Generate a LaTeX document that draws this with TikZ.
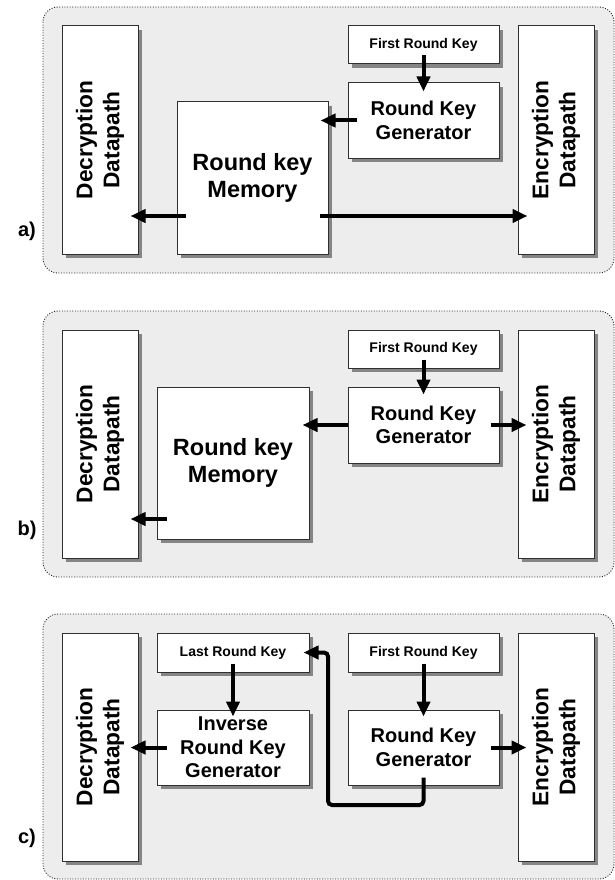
\documentclass[tikz,border=0pt]{standalone}
\usepackage{fontspec}
\setmainfont{Liberation Sans}
\usetikzlibrary{arrows.meta,shadows,calc}
\definecolor{panelfill}{HTML}{EDEDED}
\definecolor{boxline}{HTML}{303030}
\definecolor{shadowgray}{HTML}{858585}
\tikzset{
  panel/.style={draw=black!85, dash pattern=on 1pt off 1.6pt, line width=0.9pt, fill=panelfill, rounded corners=15pt},
  blk/.style={draw=boxline, line width=1pt, fill=white, inner sep=0pt, align=center, font=\bfseries,
    drop shadow={shadow xshift=4pt, shadow yshift=-4pt, fill=shadowgray, opacity=1}},
  dpath/.style={blk, minimum width=76pt, minimum height=228pt},
  dptext/.style={rotate=90, align=center, font=\bfseries\fontsize{22.7}{27}\selectfont, inner sep=0pt},
  keybox/.style={blk, minimum width=151pt, minimum height=38pt, font=\bfseries\fontsize{14}{17}\selectfont},
  genbox/.style={blk, minimum width=151pt, minimum height=75pt, font=\bfseries\fontsize{20}{23.5}\selectfont},
  membox/.style={blk, minimum width=151pt, minimum height=152pt, font=\bfseries\fontsize{23.5}{27}\selectfont},
  arr/.style={line width=4pt, -{Triangle[length=15pt,width=13pt]}},
  tag/.style={font=\bfseries\fontsize{20}{24}\selectfont, inner sep=0pt}
}
\begin{document}
\begin{tikzpicture}[x=1pt,y=-1pt]
\useasboundingbox (0,0) rectangle (615,880);
% panels
\draw[panel] (43,7) rectangle (614,273);
\draw[panel] (43,311) rectangle (614,577);
\draw[panel] (43,614) rectangle (614,879);
\node[tag] (la) at (27,231) {a)};
\node[tag] (lb) at (27,530) {b)};
\node[tag] (lc) at (27,838) {c)};

% ---------- panel a ----------
\node[dpath] (decA) at (100,140) {};
\node[dptext] (decAt) at (decA.center) {Decryption\\Datapath};
\node[dpath] (encA) at (556,140) {};
\node[dptext] (encAt) at (encA.center) {Encryption\\Datapath};
\node[keybox] (frkA) at (423.5,45) {First Round Key};
\node[genbox] (rkgA) at (423.5,120.5) {Round Key\\Generator};
\node[membox] (memA) at (252.5,178) {Round key\\Memory};
\draw[arr, shorten <=-9pt, shorten >=-9pt] (frkA.south) -- (rkgA.north);
\draw[arr, shorten <=-9pt, shorten >=-8pt] (rkgA.west) -- (rkgA.west -| memA.east);
\draw[arr, shorten <=-9pt, shorten >=-8pt] ([yshift=-38pt]memA.west) -- ([yshift=-38pt]memA.west -| decA.east);
\draw[arr, shorten <=-9pt, shorten >=-10pt] ([yshift=-38pt]memA.east) -- ([yshift=-38pt]memA.east -| encA.west);

% ---------- panel b ----------
\node[dpath] (decB) at (100,444) {};
\node[dptext] (decBt) at (decB.center) {Decryption\\Datapath};
\node[dpath] (encB) at (556,444) {};
\node[dptext] (encBt) at (encB.center) {Encryption\\Datapath};
\node[keybox] (frkB) at (423.5,349) {First Round Key};
\node[genbox, minimum height=76pt] (rkgB) at (423.5,425) {Round Key\\Generator};
\node[membox, minimum width=152pt] (memB) at (233,463) {Round key\\Memory};
\draw[arr, shorten <=-9pt, shorten >=-8pt] (frkB.south) -- (rkgB.north);
\draw[arr, shorten >=-7pt] (rkgB.west) -- (rkgB.west -| memB.east);
\draw[arr, shorten <=-9pt, shorten >=-9pt] (rkgB.east) -- (rkgB.east -| encB.west);
\draw[arr, shorten <=-10pt, shorten >=-8pt] ([yshift=-56pt]memB.west) -- ([yshift=-56pt]memB.west -| decB.east);

% ---------- panel c ----------
\node[dpath] (decC) at (100,747) {};
\node[dptext] (decCt) at (decC.center) {Decryption\\Datapath};
\node[dpath] (encC) at (556,747) {};
\node[dptext] (encCt) at (encC.center) {Encryption\\Datapath};
\node[keybox, minimum width=152pt, minimum height=39pt] (lrkC) at (233,652.5) {Last Round Key};
\node[keybox, minimum height=39pt] (frkC) at (423.5,652.5) {First Round Key};
\node[genbox, minimum width=152pt] (irkC) at (233,747.5) {Inverse\\Round Key\\Generator};
\node[genbox] (rkgC) at (423.5,747.5) {Round Key\\Generator};
\coordinate (loopC) at (328,805);
\draw[arr, shorten <=-9pt, shorten >=-7pt] (lrkC.south) -- (irkC.north);
\draw[arr, shorten <=-9pt, shorten >=-7pt] (frkC.south) -- (rkgC.north);
\draw[arr, shorten <=-10pt, shorten >=-8pt] (irkC.west) -- (irkC.west -| decC.east);
\draw[arr, shorten <=-9pt, shorten >=-9pt] (rkgC.east) -- (rkgC.east -| encC.west);
\draw[arr, rounded corners=4pt, shorten <=-8pt, shorten >=-6pt] (rkgC.south) |- (loopC) |- (lrkC.east);
\end{tikzpicture}
\end{document}
